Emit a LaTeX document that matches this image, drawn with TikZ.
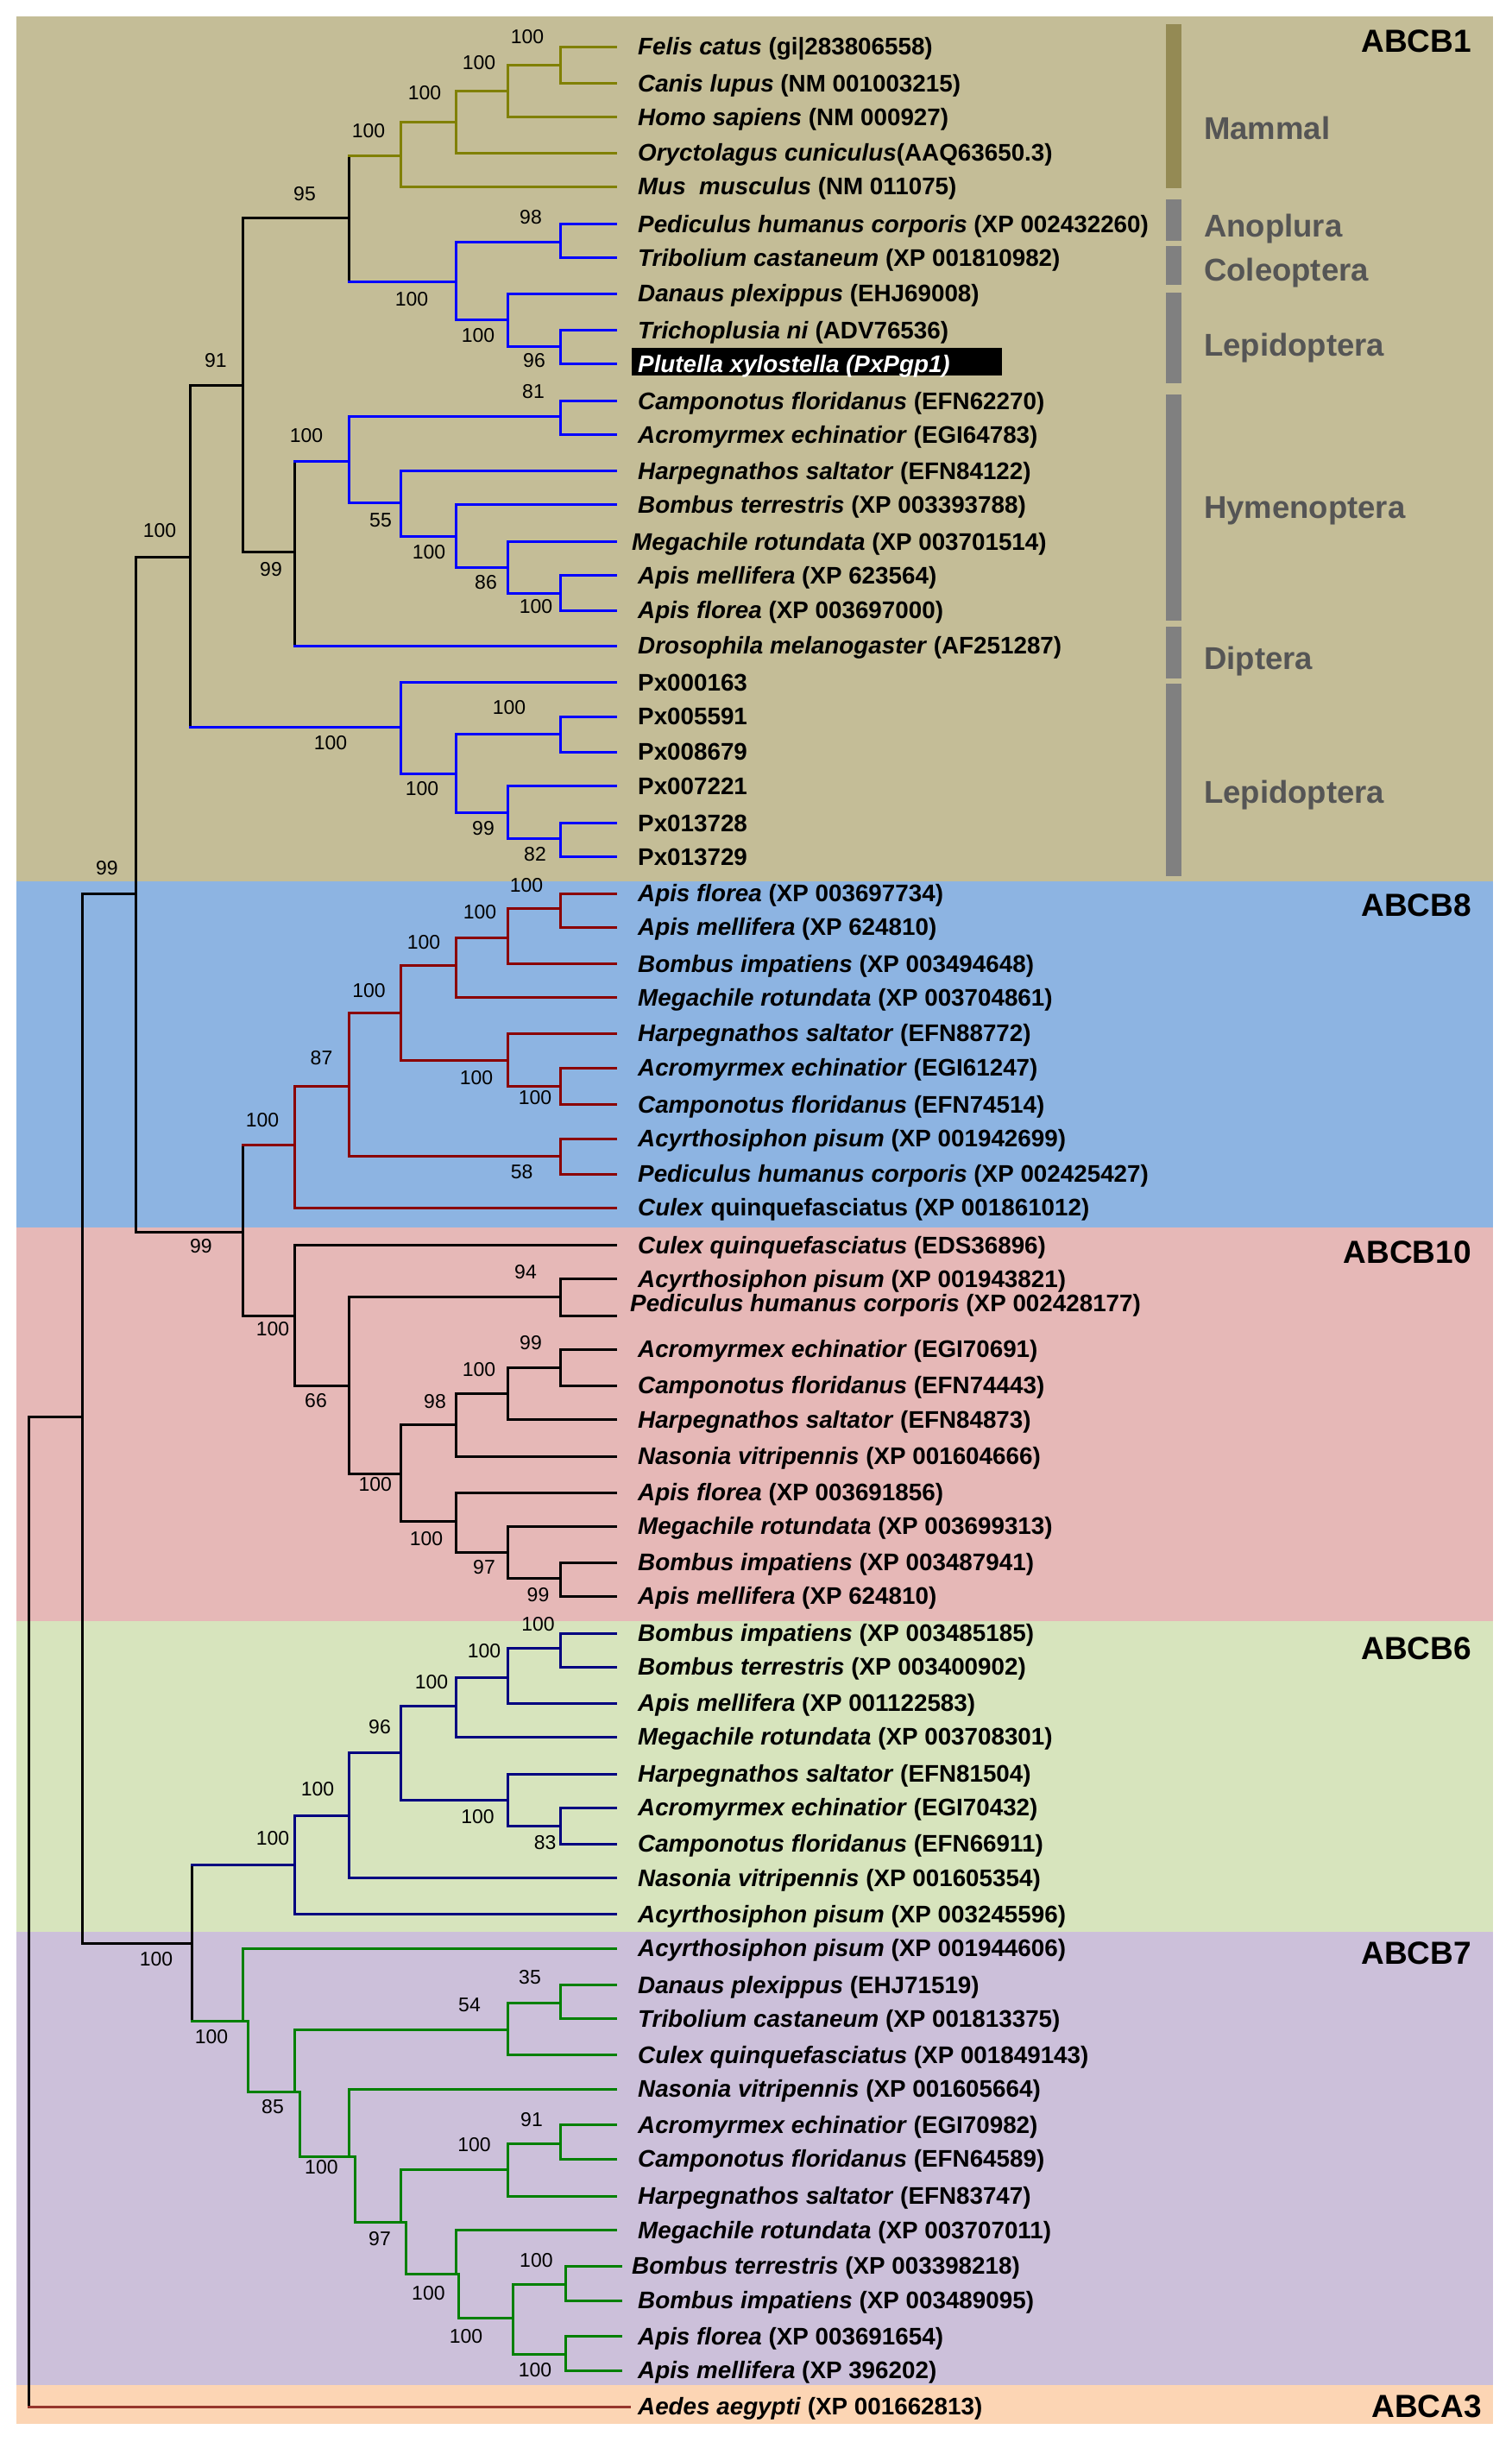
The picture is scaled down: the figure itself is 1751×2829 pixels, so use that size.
\documentclass[tikz,border=0pt]{standalone}
\usepackage{fontspec}
\setmainfont{Liberation Sans}
\definecolor{cOlive}{RGB}{128,128,0}
\definecolor{cBlue}{RGB}{0,0,255}
\definecolor{cRed}{RGB}{139,0,0}
\definecolor{cNavy}{RGB}{0,0,128}
\definecolor{cGreen}{RGB}{0,128,0}
\definecolor{cBrown}{RGB}{150,55,45}
\definecolor{bgTan}{RGB}{196,189,151}
\definecolor{bgBlue}{RGB}{141,180,226}
\definecolor{bgPink}{RGB}{230,184,183}
\definecolor{bgGreen}{RGB}{215,228,189}
\definecolor{bgPurple}{RGB}{204,192,218}
\definecolor{bgPeach}{RGB}{252,213,180}
\definecolor{barOlive}{RGB}{148,138,84}
\definecolor{barGray}{RGB}{128,128,128}
\definecolor{txtGray}{RGB}{85,85,85}
\newcommand\cl[6]{%
  \draw[tree,#4] (#1 |- #2) -- (#1 |- #3);
  \draw[tree,#5] (#1 |- #2) -- (#2);
  \draw[tree,#6] (#1 |- #3) -- (#3);}
% staircase clade: upper vertical at #1, lower vertical at #2
\newcommand\cls[5]{%
  \draw[tree,#5] (#1 |- #3) -- (#1);
  \draw[tree,#5] (#2) -- (#2 |- #4);
  \draw[tree,#5] (#1) -- (#2);
  \draw[tree,#5] (#1 |- #3) -- (#3);
  \draw[tree,#5] (#2 |- #4) -- (#4);}
\newcommand\tip[2]{\coordinate (#1) at (713,#2);}
\newcommand\lt[4]{\node[leaflab] (#1) at (#2,#3) {#4};}
\begin{document}
\begin{tikzpicture}[x=1pt,y=-1pt,
  tree/.style={line width=3pt,line cap=rect},
  leaflab/.style={anchor=base west,yshift=-9.6pt,inner sep=0pt,font=\fontsize{27.8}{30}\selectfont\bfseries},
  bslab/.style={inner sep=0pt,font=\fontsize{23}{25}\selectfont},
  clade/.style={anchor=east,inner sep=0pt,font=\fontsize{37}{40}\selectfont\bfseries},
  grp/.style={anchor=base west,yshift=-13.2pt,inner sep=0pt,text=txtGray,font=\fontsize{36.5}{40}\selectfont\bfseries},
  bar/.style={fill=barGray}]
\useasboundingbox (0,0) rectangle (1751,2829);
\fill[white] (0,0) rectangle (1751,2829);
% backgrounds
\fill[bgTan] (19.4,19.3) rectangle (1730,1021.4);
\fill[bgBlue] (19.4,1021.4) rectangle (1730,1422);
\fill[bgPink] (19.4,1422) rectangle (1730,1878.4);
\fill[bgGreen] (19.4,1878.4) rectangle (1730,2238);
\fill[bgPurple] (19.4,2238) rectangle (1730,2762.5);
\fill[bgPeach] (19.4,2762.5) rectangle (1730,2807.6);
% side bars
\fill[barOlive] (1351,28.5) rectangle (1369,218.3);
\fill[bar] (1351,230.7) rectangle (1369,278.7);
\fill[bar] (1351,285) rectangle (1369,330);
\fill[bar] (1351,339) rectangle (1369,444.4);
\fill[bar] (1351,456.8) rectangle (1369,719.3);
\fill[bar] (1351,726) rectangle (1369,786);
\fill[bar] (1351,791.8) rectangle (1369,1015);
\node[grp] (gMam) at (1395,148.3) {Mammal};
\node[grp] (gAno) at (1395,261.7) {Anoplura};
\node[grp] (gCol) at (1395,312) {Coleoptera};
\node[grp] (gLep) at (1395,399.5) {Lepidoptera};
\node[grp] (gHym) at (1395,587.7) {Hymenoptera};
\node[grp] (gDip) at (1395,762) {Diptera};
\node[grp] (gLep2) at (1395,917) {Lepidoptera};
% clade labels
\node[clade] (cB1) at (1705,48) {ABCB1};
\node[clade] (cB8) at (1705,1049) {ABCB8};
\node[clade] (cB10) at (1705,1450.5) {ABCB10};
\node[clade] (cB6) at (1705,1909.6) {ABCB6};
\node[clade] (cB7) at (1705,2262.7) {ABCB7};
\node[clade] (cA3) at (1717,2788) {ABCA3};
% ---------- leaf tips ----------
\tip{L1}{54.2}\tip{L2}{96.4}\tip{L3}{135.4}\tip{L4}{177.2}\tip{L5}{216.3}
\tip{L6}{259.4}\tip{L7}{298.4}\tip{L8}{340.2}\tip{L9}{382.5}\tip{L10}{421.5}
\tip{L11}{464.6}\tip{L12}{503.7}\tip{L13}{545.5}\tip{L14}{584.5}\tip{L15}{627.6}
\tip{L16}{666.7}\tip{L17}{707}\tip{L18}{748.2}\tip{L19}{790.4}\tip{L20}{830}
\tip{L21}{871}\tip{L22}{910.7}\tip{L23}{953.4}\tip{L24}{992.5}
\tip{R1}{1035}\tip{R2}{1074}\tip{R3}{1116.4}\tip{R4}{1155.5}\tip{R5}{1197}
\tip{R6}{1237}\tip{R7}{1279.4}\tip{R8}{1319}\tip{R9}{1360}\tip{R10}{1399}
\tip{T1}{1442.7}\tip{T2}{1481.7}\tip{T3}{1524}\tip{T4}{1563}\tip{T5}{1605}
\tip{T6}{1644.7}\tip{T7}{1687}\tip{T8}{1729}\tip{T9}{1768}\tip{T10}{1810}\tip{T11}{1849}
\tip{S1}{1892}\tip{S2}{1931}\tip{S3}{1973}\tip{S4}{2012}\tip{S5}{2055}
\tip{S6}{2094}\tip{S7}{2136}\tip{S8}{2175.8}\tip{S9}{2217.6}
\tip{V1}{2257}\tip{V2}{2299.4}\tip{V3}{2338.5}\tip{V4}{2380.8}\tip{V5}{2420}
\tip{V6}{2461.7}\tip{V7}{2501}\tip{V8}{2544}\tip{V9}{2583.5}
\coordinate (V10) at (719,2625.3);\coordinate (V11) at (719,2665);
\coordinate (V12) at (719,2706.7);\coordinate (V13) at (719,2746.2);
\coordinate (AE) at (729,2788);
% ---------- internal nodes ----------
\coordinate (M4) at (649,75.3);\coordinate (M3) at (588,105.6);
\coordinate (M2) at (528,141);\coordinate (M1) at (464,180);
\coordinate (B2) at (649,280);\coordinate (B4) at (649,401);
\coordinate (B3) at (588,370);\coordinate (B1) at (528,326);
\coordinate (N5) at (404,252.5);
\coordinate (H2) at (649,482);\coordinate (H6) at (649,687);
\coordinate (H5) at (588,657.5);\coordinate (H4) at (528,621);
\coordinate (H3) at (464,582);\coordinate (H1) at (404,534);
\coordinate (H0) at (341,639);\coordinate (N4) at (281,446);
\coordinate (P3) at (649,850.6);\coordinate (P5) at (649,971.8);
\coordinate (P4) at (588,941);\coordinate (P2) at (528,896.5);
\coordinate (P1) at (464,842);\coordinate (N3) at (220,645);
\coordinate (D6) at (649,1052.6);\coordinate (D5) at (588,1086.6);
\coordinate (D4) at (528,1118.7);\coordinate (D7b) at (649,1258);
\coordinate (D7) at (588,1228);\coordinate (D3) at (464,1173);
\coordinate (D8) at (649,1339);\coordinate (D2) at (404,1258);
\coordinate (D1) at (341,1326.7);\coordinate (C0) at (281,1427);
\coordinate (E2) at (649,1502.4);\coordinate (E6) at (649,1584);
\coordinate (E5) at (588,1614);\coordinate (E4) at (528,1650);
\coordinate (E9) at (649,1828);\coordinate (E8) at (588,1798);
\coordinate (E7) at (528,1762.7);\coordinate (E3) at (464,1707.6);
\coordinate (E1) at (404,1605);\coordinate (E0) at (341,1524);
\coordinate (N2) at (157,1035);
\coordinate (G5) at (649,1909.6);\coordinate (G4) at (588,1943);
\coordinate (G3) at (528,1976);\coordinate (G7) at (649,2115);
\coordinate (G6) at (588,2085);\coordinate (G2) at (464,2030);
\coordinate (G1) at (404,2103);\coordinate (G0) at (341,2160.4);
\coordinate (K3) at (649,2320.4);\coordinate (K2) at (588,2351);
\coordinate (K7) at (649,2483.5);\coordinate (K6) at (588,2513.3);
\coordinate (K10) at (655,2646.3);\coordinate (K11) at (655,2727.6);
\coordinate (K9) at (594,2685.8);
\coordinate (K8) at (528,2634.6);\coordinate (K8b) at (531,2634.6);
\coordinate (K5) at (464,2574.2);\coordinate (K5b) at (470,2574.2);
\coordinate (K4) at (404,2498.4);\coordinate (K4b) at (411,2498.4);
\coordinate (K1) at (341,2423);\coordinate (K1b) at (347,2423);
\coordinate (K0) at (281,2341.7);\coordinate (K0b) at (287,2341.7);
\coordinate (F0) at (222,2251);\coordinate (N1) at (95,1641);
\coordinate (R0) at (33,2200);
% ---------- branches ----------
\cl{M4}{L1}{L2}{cOlive}{cOlive}{cOlive}
\cl{M3}{M4}{L3}{cOlive}{cOlive}{cOlive}
\cl{M2}{M3}{L4}{cOlive}{cOlive}{cOlive}
\cl{M1}{M2}{L5}{cOlive}{cOlive}{cOlive}
\cl{B2}{L6}{L7}{cBlue}{cBlue}{cBlue}
\cl{B4}{L9}{L10}{cBlue}{cBlue}{cBlue}
\cl{B3}{L8}{B4}{cBlue}{cBlue}{cBlue}
\cl{B1}{B2}{B3}{cBlue}{cBlue}{cBlue}
\cl{N5}{M1}{B1}{black}{cOlive}{cBlue}
\cl{H2}{L11}{L12}{cBlue}{cBlue}{cBlue}
\cl{H6}{L16}{L17}{cBlue}{cBlue}{cBlue}
\cl{H5}{L15}{H6}{cBlue}{cBlue}{cBlue}
\cl{H4}{L14}{H5}{cBlue}{cBlue}{cBlue}
\cl{H3}{L13}{H4}{cBlue}{cBlue}{cBlue}
\cl{H1}{H2}{H3}{cBlue}{cBlue}{cBlue}
\cl{H0}{H1}{L18}{black}{cBlue}{cBlue}
\cl{N4}{N5}{H0}{black}{black}{black}
\cl{P3}{L20}{L21}{cBlue}{cBlue}{cBlue}
\cl{P5}{L23}{L24}{cBlue}{cBlue}{cBlue}
\cl{P4}{L22}{P5}{cBlue}{cBlue}{cBlue}
\cl{P2}{P3}{P4}{cBlue}{cBlue}{cBlue}
\cl{P1}{L19}{P2}{cBlue}{cBlue}{cBlue}
\cl{N3}{N4}{P1}{black}{black}{cBlue}
\cl{D6}{R1}{R2}{cRed}{cRed}{cRed}
\cl{D5}{D6}{R3}{cRed}{cRed}{cRed}
\cl{D4}{D5}{R4}{cRed}{cRed}{cRed}
\cl{D7b}{R6}{R7}{cRed}{cRed}{cRed}
\cl{D7}{R5}{D7b}{cRed}{cRed}{cRed}
\cl{D3}{D4}{D7}{cRed}{cRed}{cRed}
\cl{D8}{R8}{R9}{cRed}{cRed}{cRed}
\cl{D2}{D3}{D8}{cRed}{cRed}{cRed}
\cl{D1}{D2}{R10}{cRed}{cRed}{cRed}
\cl{E2}{T2}{T3}{black}{black}{black}
\cl{E6}{T4}{T5}{black}{black}{black}
\cl{E5}{E6}{T6}{black}{black}{black}
\cl{E4}{E5}{T7}{black}{black}{black}
\cl{E9}{T10}{T11}{black}{black}{black}
\cl{E8}{T9}{E9}{black}{black}{black}
\cl{E7}{T8}{E8}{black}{black}{black}
\cl{E3}{E4}{E7}{black}{black}{black}
\cl{E1}{E2}{E3}{black}{black}{black}
\cl{E0}{T1}{E1}{black}{black}{black}
\cl{C0}{D1}{E0}{black}{cRed}{black}
\cl{N2}{N3}{C0}{black}{black}{black}
\cl{G5}{S1}{S2}{cNavy}{cNavy}{cNavy}
\cl{G4}{G5}{S3}{cNavy}{cNavy}{cNavy}
\cl{G3}{G4}{S4}{cNavy}{cNavy}{cNavy}
\cl{G7}{S6}{S7}{cNavy}{cNavy}{cNavy}
\cl{G6}{S5}{G7}{cNavy}{cNavy}{cNavy}
\cl{G2}{G3}{G6}{cNavy}{cNavy}{cNavy}
\cl{G1}{G2}{S8}{cNavy}{cNavy}{cNavy}
\cl{G0}{G1}{S9}{cNavy}{cNavy}{cNavy}
\cl{K3}{V2}{V3}{cGreen}{cGreen}{cGreen}
\cl{K2}{K3}{V4}{cGreen}{cGreen}{cGreen}
\cl{K7}{V6}{V7}{cGreen}{cGreen}{cGreen}
\cl{K6}{K7}{V8}{cGreen}{cGreen}{cGreen}
\cl{K10}{V10}{V11}{cGreen}{cGreen}{cGreen}
\cl{K11}{V12}{V13}{cGreen}{cGreen}{cGreen}
\cl{K9}{K10}{K11}{cGreen}{cGreen}{cGreen}
\cls{K8}{K8b}{V9}{K9}{cGreen}
\cls{K5}{K5b}{K6}{K8b}{cGreen}
\cls{K4}{K4b}{V5}{K5b}{cGreen}
\cls{K1}{K1b}{K2}{K4b}{cGreen}
\cls{K0}{K0b}{V1}{K1b}{cGreen}
\cl{F0}{G0}{K0b}{black}{cNavy}{cGreen}
\cl{N1}{N2}{F0}{black}{black}{black}
\cl{R0}{N1}{AE}{black}{black}{cBrown}
% ---------- support values ----------
\node[bslab] (s1) at (611,42.7) {100};
\node[bslab] (s2) at (555,72.5) {100};
\node[bslab] (s3) at (492,108) {100};
\node[bslab] (s4) at (427,151.5) {100};
\node[bslab] (s5) at (353,225) {95};
\node[bslab] (s6) at (615,251.6) {98};
\node[bslab] (s7) at (477,347) {100};
\node[bslab] (s8) at (554,389) {100};
\node[bslab] (s9) at (619,418) {96};
\node[bslab] (s10) at (250,418) {91};
\node[bslab] (s11) at (618,453.6) {81};
\node[bslab] (s12) at (355,505) {100};
\node[bslab] (s13) at (441,603) {55};
\node[bslab] (s14) at (497,640) {100};
\node[bslab] (s15) at (314,660) {99};
\node[bslab] (s16) at (563,675) {86};
\node[bslab] (s17) at (621,702.5) {100};
\node[bslab] (s18) at (185,615) {100};
\node[bslab] (s19) at (590,820) {100};
\node[bslab] (s20) at (383,861) {100};
\node[bslab] (s21) at (489,914) {100};
\node[bslab] (s22) at (560,960) {99};
\node[bslab] (s23) at (620,990) {82};
\node[bslab] (s24) at (124,1006) {99};
\node[bslab] (s25) at (610,1026) {100};
\node[bslab] (s26) at (556,1056.7) {100};
\node[bslab] (s27) at (491,1091.6) {100};
\node[bslab] (s28) at (427.6,1147.6) {100};
\node[bslab] (s29) at (372.5,1225.7) {87};
\node[bslab] (s30) at (552,1248.7) {100};
\node[bslab] (s31) at (620,1271.6) {100};
\node[bslab] (s32) at (304,1298) {100};
\node[bslab] (s33) at (604.6,1357.5) {58};
\node[bslab] (s34) at (233,1444) {99};
\node[bslab] (s35) at (609,1474) {94};
\node[bslab] (s36) at (316,1540) {100};
\node[bslab] (s37) at (615,1556) {99};
\node[bslab] (s38) at (555,1586.9) {100};
\node[bslab] (s39) at (504,1624) {98};
\node[bslab] (s40) at (366,1622.7) {66};
\node[bslab] (s41) at (434.7,1720) {100};
\node[bslab] (s42) at (494,1782.5) {100};
\node[bslab] (s43) at (561,1815.5) {97};
\node[bslab] (s44) at (623.5,1847.7) {99};
\node[bslab] (s45) at (623.5,1882) {100};
\node[bslab] (s46) at (561,1913) {100};
\node[bslab] (s47) at (500,1948.7) {100};
\node[bslab] (s48) at (440,2000.5) {96};
\node[bslab] (s49) at (368,2072.6) {100};
\node[bslab] (s50) at (553.6,2104.8) {100};
\node[bslab] (s51) at (316,2130) {100};
\node[bslab] (s52) at (631.6,2135) {83};
\node[bslab] (s53) at (181,2270) {100};
\node[bslab] (s54) at (614,2290.6) {35};
\node[bslab] (s55) at (544,2323) {54};
\node[bslab] (s56) at (245,2359.4) {100};
\node[bslab] (s57) at (316,2440.8) {85};
\node[bslab] (s58) at (616,2455.6) {91};
\node[bslab] (s59) at (549.5,2484.5) {100};
\node[bslab] (s60) at (372.4,2510.5) {100};
\node[bslab] (s61) at (440,2594) {97};
\node[bslab] (s62) at (621.4,2618.4) {100};
\node[bslab] (s63) at (496.4,2656.5) {100};
\node[bslab] (s64) at (540,2706.7) {100};
\node[bslab] (s65) at (620,2746) {100};
% ---------- leaf labels ----------
\fill[black] (732,403) rectangle (1160.5,435);
\lt{tL1}{739}{54.2}{\textit{Felis catus} (gi|283806558)}
\lt{tL2}{739}{96.4}{\textit{Canis lupus} (NM 001003215)}
\lt{tL3}{739}{135.4}{\textit{Homo sapiens} (NM 000927)}
\lt{tL4}{739}{177.2}{\textit{Oryctolagus cuniculus}(AAQ63650.3)}
\lt{tL5}{739}{216.3}{\textit{Mus\ \ musculus} (NM 011075)}
\lt{tL6}{739}{259.4}{\textit{Pediculus humanus corporis} (XP 002432260)}
\lt{tL7}{739}{298.4}{\textit{Tribolium castaneum} (XP 001810982)}
\lt{tL8}{739}{340.2}{\textit{Danaus plexippus} (EHJ69008)}
\lt{tL9}{739}{382.5}{\textit{Trichoplusia ni} (ADV76536)}
\node[leaflab,text=white] (tL10) at (739,421.5) {\textit{Plutella xylostella (PxPgp1)}};
\lt{tL11}{739}{464.6}{\textit{Camponotus floridanus} (EFN62270)}
\lt{tL12}{739}{503.7}{\textit{Acromyrmex echinatior} (EGI64783)}
\lt{tL13}{739}{545.5}{\textit{Harpegnathos saltator} (EFN84122)}
\lt{tL14}{739}{584.5}{\textit{Bombus terrestris} (XP 003393788)}
\lt{tL15}{732}{627.6}{\textit{Megachile rotundata} (XP 003701514)}
\lt{tL16}{739}{666.7}{\textit{Apis mellifera} (XP 623564)}
\lt{tL17}{739}{707}{\textit{Apis florea} (XP 003697000)}
\lt{tL18}{739}{748.2}{\textit{Drosophila melanogaster} (AF251287)}
\lt{tL19}{739}{790.4}{Px000163}
\lt{tL20}{739}{830}{Px005591}
\lt{tL21}{739}{871}{Px008679}
\lt{tL22}{739}{910.7}{Px007221}
\lt{tL23}{739}{953.4}{Px013728}
\lt{tL24}{739}{992.5}{Px013729}
\lt{tR1}{739}{1035}{\textit{Apis florea} (XP 003697734)}
\lt{tR2}{739}{1074}{\textit{Apis mellifera} (XP 624810)}
\lt{tR3}{739}{1116.4}{\textit{Bombus impatiens} (XP 003494648)}
\lt{tR4}{739}{1155.5}{\textit{Megachile rotundata} (XP 003704861)}
\lt{tR5}{739}{1197}{\textit{Harpegnathos saltator} (EFN88772)}
\lt{tR6}{739}{1237}{\textit{Acromyrmex echinatior} (EGI61247)}
\lt{tR7}{739}{1279.4}{\textit{Camponotus floridanus} (EFN74514)}
\lt{tR8}{739}{1319}{\textit{Acyrthosiphon pisum} (XP 001942699)}
\lt{tR9}{739}{1360}{\textit{Pediculus humanus corporis} (XP 002425427)}
\lt{tR10}{739}{1399}{\textit{Culex} quinquefasciatus (XP 001861012)}
\lt{tT1}{739}{1442.7}{\textit{Culex quinquefasciatus} (EDS36896)}
\lt{tT2}{739}{1481.7}{\textit{Acyrthosiphon pisum} (XP 001943821)}
\lt{tT3}{730}{1510}{\textit{Pediculus humanus corporis} (XP 002428177)}
\lt{tT4}{739}{1563}{\textit{Acromyrmex echinatior} (EGI70691)}
\lt{tT5}{739}{1605}{\textit{Camponotus floridanus} (EFN74443)}
\lt{tT6}{739}{1644.7}{\textit{Harpegnathos saltator} (EFN84873)}
\lt{tT7}{739}{1687}{\textit{Nasonia vitripennis} (XP 001604666)}
\lt{tT8}{739}{1729}{\textit{Apis florea} (XP 003691856)}
\lt{tT9}{739}{1768}{\textit{Megachile rotundata} (XP 003699313)}
\lt{tT10}{739}{1810}{\textit{Bombus impatiens} (XP 003487941)}
\lt{tT11}{739}{1849}{\textit{Apis mellifera} (XP 624810)}
\lt{tS1}{739}{1892}{\textit{Bombus impatiens} (XP 003485185)}
\lt{tS2}{739}{1931}{\textit{Bombus terrestris} (XP 003400902)}
\lt{tS3}{739}{1973}{\textit{Apis mellifera} (XP 001122583)}
\lt{tS4}{739}{2012}{\textit{Megachile rotundata} (XP 003708301)}
\lt{tS5}{739}{2055}{\textit{Harpegnathos saltator} (EFN81504)}
\lt{tS6}{739}{2094}{\textit{Acromyrmex echinatior} (EGI70432)}
\lt{tS7}{739}{2136}{\textit{Camponotus floridanus} (EFN66911)}
\lt{tS8}{739}{2175.8}{\textit{Nasonia vitripennis} (XP 001605354)}
\lt{tS9}{739}{2217.6}{\textit{Acyrthosiphon pisum} (XP 003245596)}
\lt{tV1}{739}{2257}{\textit{Acyrthosiphon pisum} (XP 001944606)}
\lt{tV2}{739}{2299.4}{\textit{Danaus plexippus} (EHJ71519)}
\lt{tV3}{739}{2338.5}{\textit{Tribolium castaneum} (XP 001813375)}
\lt{tV4}{739}{2380.8}{\textit{Culex quinquefasciatus} (XP 001849143)}
\lt{tV5}{739}{2420}{\textit{Nasonia vitripennis} (XP 001605664)}
\lt{tV6}{739}{2461.7}{\textit{Acromyrmex echinatior} (EGI70982)}
\lt{tV7}{739}{2501}{\textit{Camponotus floridanus} (EFN64589)}
\lt{tV8}{739}{2544}{\textit{Harpegnathos saltator} (EFN83747)}
\lt{tV9}{739}{2583.5}{\textit{Megachile rotundata} (XP 003707011)}
\lt{tV10}{732}{2625.3}{\textit{Bombus terrestris} (XP 003398218)}
\lt{tV11}{739}{2665}{\textit{Bombus impatiens} (XP 003489095)}
\lt{tV12}{739}{2706.7}{\textit{Apis florea} (XP 003691654)}
\lt{tV13}{739}{2746.2}{\textit{Apis mellifera} (XP 396202)}
\lt{tAE}{739}{2788}{\textit{Aedes aegypti} (XP 001662813)}
\end{tikzpicture}
\end{document}
